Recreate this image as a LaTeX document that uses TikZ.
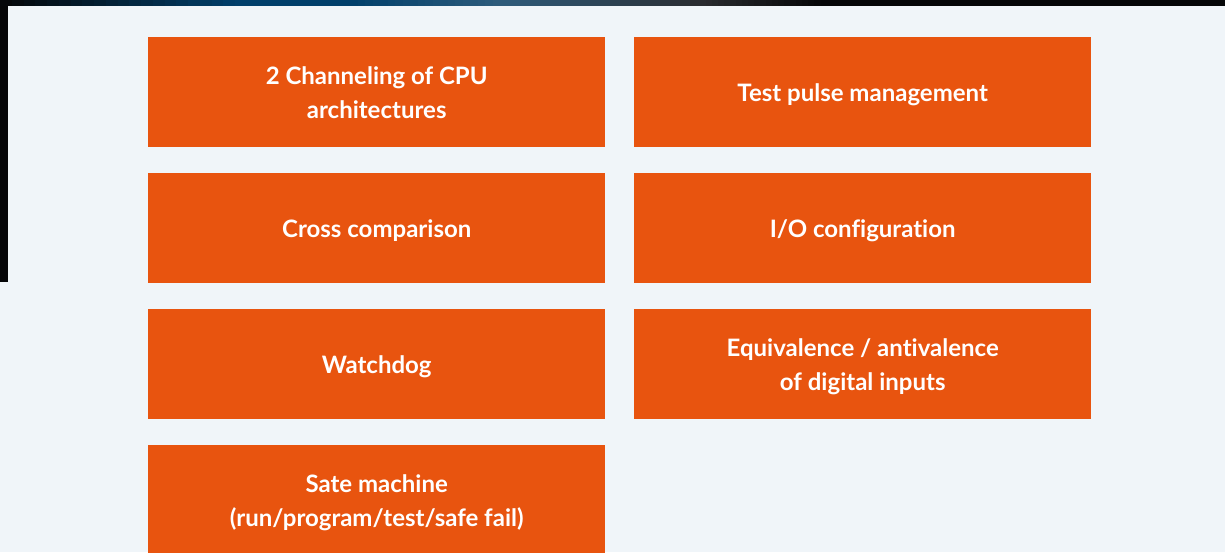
\documentclass[tikz,border=0pt]{standalone}
\usepackage{fontspec}
\setmainfont[Ligatures={NoCommon}]{Lato}
\definecolor{bg}{HTML}{F0F5F9}
\definecolor{box}{HTML}{E8540F}
\definecolor{ink}{HTML}{050608}
\definecolor{barA}{HTML}{003F6B}
\definecolor{barB}{HTML}{2E5C7C}
\definecolor{barC}{HTML}{2A2C30}
\newcommand\lnstrut{\rule[-6pt]{0pt}{30pt}}
\tikzset{
  card/.style={fill=box, text=white, minimum width=457pt, minimum height=110pt, inner sep=0pt, align=center, font=\bfseries\fontsize{24}{34}\selectfont, anchor=north west}
}
\begin{document}
\begin{tikzpicture}[x=1pt,y=-1pt]
\useasboundingbox (0,0) rectangle (1225,552);
\fill[bg] (0,0) rectangle (1225,552);
\fill[ink] (0,0) rectangle (1225,6);
\fill[ink] (0,6) rectangle (8,282);
% gradient segments: start, end, from colour, to colour
\foreach \sa/\sb/\ca/\cb in {0/235/ink/barA, 235/350/barA/barA, 350/500/barA/barB, 500/700/barB/barC, 700/820/barC/ink} {
  \foreach \k in {0,...,19} {
    \pgfmathsetmacro{\xa}{\sa+(\sb-\sa)*\k/20}
    \pgfmathsetmacro{\xb}{\sa+(\sb-\sa)*(\k+1)/20+0.6}
    \pgfmathtruncatemacro{\t}{(\k+0.5)*5}
    \colorlet{segc}{\cb!\t!\ca}
    \fill[segc] (\xa,0) rectangle (\xb,6);
  }
}
\node[card] (a) at (148,37) {2 Channeling of CPU\lnstrut\\architectures\lnstrut};
\node[card] (b) at (634,37) {Test pulse management\lnstrut};
\node[card] (c) at (148,173) {Cross comparison\lnstrut};
\node[card] (d) at (634,173) {I/O configuration\lnstrut};
\node[card] (e) at (148,309) {Watchdog\lnstrut};
\node[card] (f) at (634,309) {Equivalence / antivalence\lnstrut\\of digital inputs\lnstrut};
\node[card] (g) at (148,445) {Sate machine\lnstrut\\(run/program/test/safe fail)\lnstrut};
\end{tikzpicture}
\end{document}
